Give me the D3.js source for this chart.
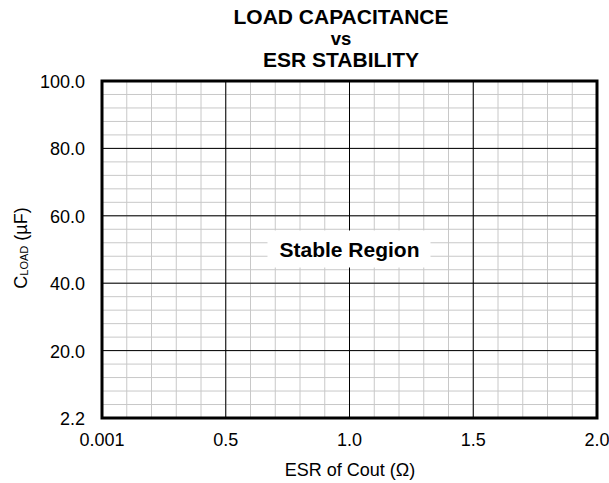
<!DOCTYPE html>
<html>
<head>
<meta charset="utf-8">
<script src="https://cdn.jsdelivr.net/npm/d3@7"></script>
<style>
  body { margin: 0; background: #fff; }
  text { font-family: "Liberation Sans", Arial, sans-serif; }
</style>
</head>
<body>
<script>
// chart values
const titleLines = ["LOAD CAPACITANCE", "vs", "ESR STABILITY"];
const xDomain = [0, 2];
const yDomain = [0, 100];
const xMajorTicks = [0, 0.5, 1.0, 1.5, 2.0];
const xTickLabels = ["0.001", "0.5", "1.0", "1.5", "2.0"];
const yMajorTicks = [0, 20, 40, 60, 80, 100];
const yTickLabels = ["2.2", "20.0", "40.0", "60.0", "80.0", "100.0"];
const xMinorStep = 0.1;
const yMinorStep = 4;
const regionLabel = "Stable Region";
const regionPoint = [1.0, 50];

const svgSize = { width: 609, height: 483 };
const margin = { top: 81, left: 102, right: 12, bottom: 65 };
const plot = {
    width: svgSize.width - margin.left - margin.right,
    height: svgSize.height - margin.top - margin.bottom
};

const svg = d3.select('body')
    .append('svg')
    .attr('width', svgSize.width)
    .attr('height', svgSize.height);

const xScale = d3.scaleLinear().domain(xDomain).range([0, plot.width]);
const yScale = d3.scaleLinear().domain(yDomain).range([plot.height, 0]);

const g = svg.append('g')
    .attr('transform', `translate(${margin.left}, ${margin.top})`);

// minor grid
const xMinor = d3.range(xDomain[0], xDomain[1] + 1e-9, xMinorStep);
const yMinor = d3.range(yDomain[0], yDomain[1] + 1e-9, yMinorStep);
g.selectAll('.xminor').data(xMinor).enter().append('line')
    .attr('x1', d => xScale(d)).attr('x2', d => xScale(d))
    .attr('y1', 0).attr('y2', plot.height)
    .attr('stroke', '#c8c8c8').attr('stroke-width', 1);
g.selectAll('.yminor').data(yMinor).enter().append('line')
    .attr('y1', d => yScale(d)).attr('y2', d => yScale(d))
    .attr('x1', 0).attr('x2', plot.width)
    .attr('stroke', '#c8c8c8').attr('stroke-width', 1);

// major grid
g.selectAll('.xmajor').data(xMajorTicks).enter().append('line')
    .attr('x1', d => xScale(d)).attr('x2', d => xScale(d))
    .attr('y1', 0).attr('y2', plot.height)
    .attr('stroke', '#000').attr('stroke-width', 1);
g.selectAll('.ymajor').data(yMajorTicks).enter().append('line')
    .attr('y1', d => yScale(d)).attr('y2', d => yScale(d))
    .attr('x1', 0).attr('x2', plot.width)
    .attr('stroke', '#000').attr('stroke-width', 1);

// stable region label with white box
const rx = xScale(regionPoint[0]), ry = yScale(regionPoint[1]);
g.append('rect')
    .attr('x', rx - 82).attr('y', ry - 19)
    .attr('width', 163).attr('height', 37)
    .attr('fill', '#fff');
g.append('text')
    .attr('x', rx).attr('y', ry + 7)
    .attr('text-anchor', 'middle')
    .attr('font-size', 21).attr('font-weight', 'bold')
    .text(regionLabel);

// frame
g.append('rect')
    .attr('x', 0).attr('y', 0)
    .attr('width', plot.width).attr('height', plot.height)
    .attr('fill', 'none').attr('stroke', '#000').attr('stroke-width', 3);

// tick labels
g.selectAll('.xlab').data(xMajorTicks).enter().append('text')
    .attr('x', d => xScale(d)).attr('y', plot.height + 28)
    .attr('text-anchor', 'middle').attr('font-size', 18)
    .text((d, i) => xTickLabels[i]);
g.selectAll('.ylab').data(yMajorTicks).enter().append('text')
    .attr('x', -17).attr('y', d => yScale(d) + 7)
    .attr('text-anchor', 'end').attr('font-size', 18)
    .text((d, i) => yTickLabels[i]);

// axis titles
svg.append('text')
    .attr('x', 350)
    .attr('y', 476)
    .attr('text-anchor', 'middle').attr('font-size', 18)
    .text('ESR of Cout (Ω)');

const yt = svg.append('text')
    .attr('transform', `translate(27, 248) rotate(-90)`)
    .attr('text-anchor', 'middle').attr('font-size', 18);
yt.append('tspan').text('C');
yt.append('tspan').attr('font-size', 11).attr('dy', 1).text('LOAD');
yt.append('tspan').attr('dy', -1).text(' (µF)');

// title
const tSizes = [21, 18.5, 21];
const tY = [23.5, 44.5, 67];
svg.selectAll('.title').data(titleLines).enter().append('text')
    .attr('x', 341).attr('y', (d, i) => tY[i])
    .attr('text-anchor', 'middle')
    .attr('font-size', (d, i) => tSizes[i]).attr('font-weight', 'bold')
    .text(d => d);
</script>
</body>
</html>
